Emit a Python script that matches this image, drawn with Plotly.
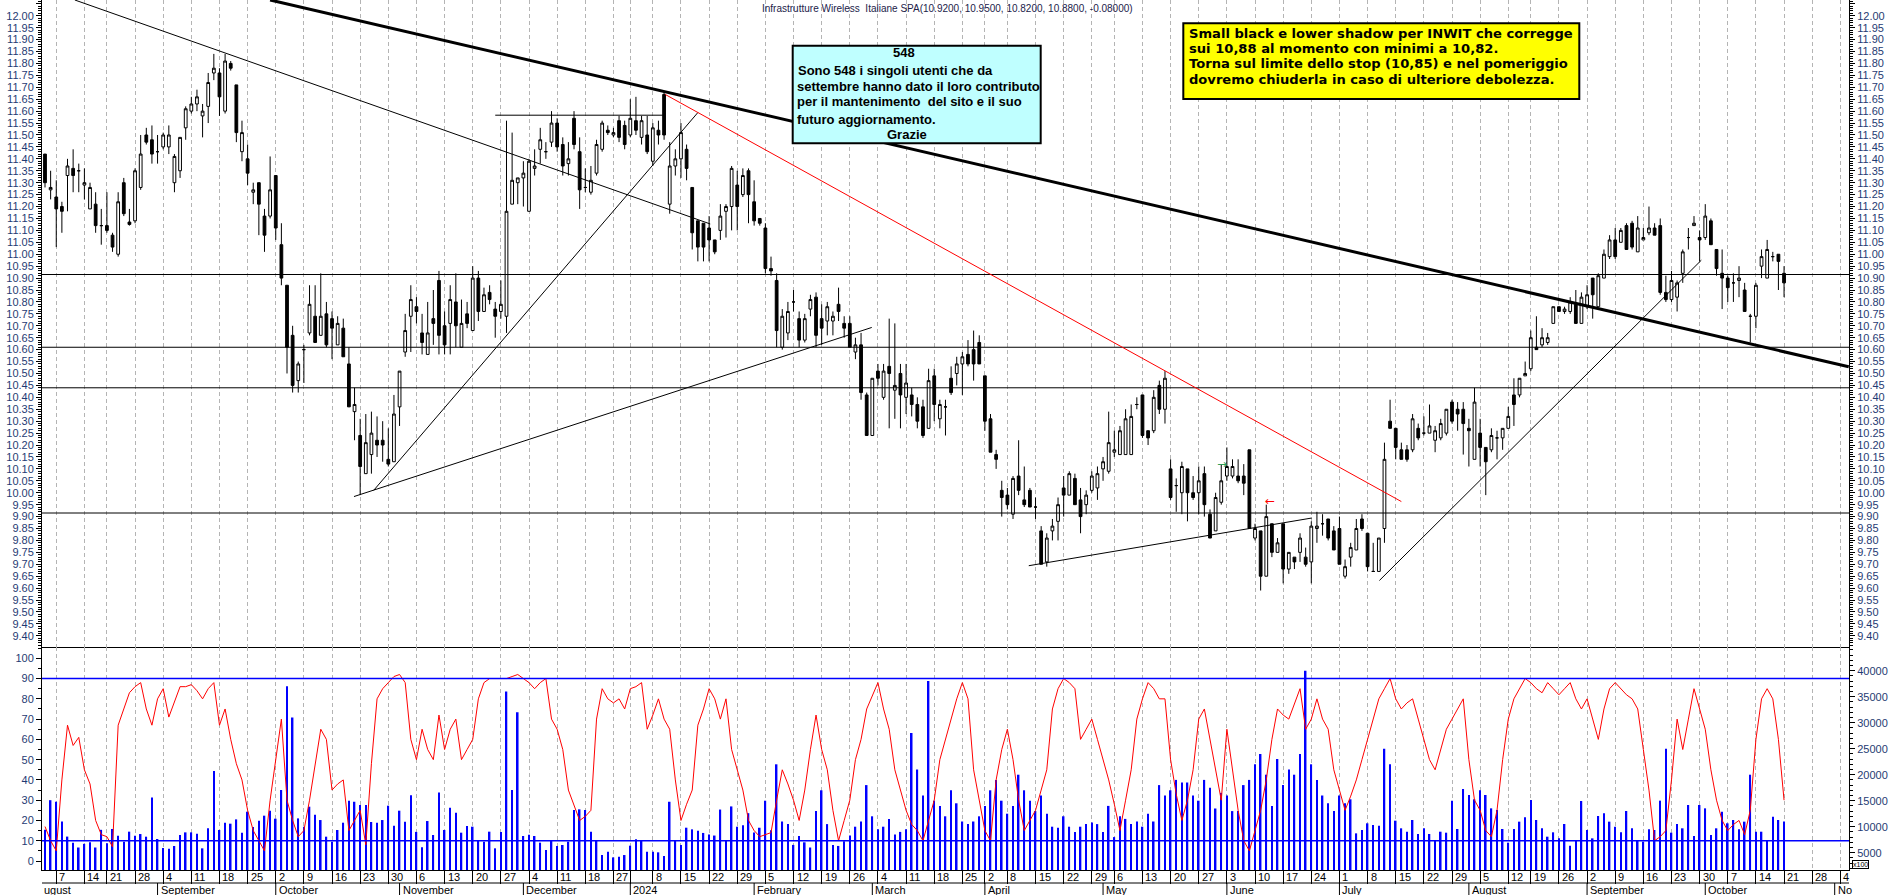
import pandas as pd
import plotly.graph_objects as go

# ---------------- calendar (Borsa Italiana trading days) ----------------
FIRST_DAY = "2023-08-03"
LAST_CAL_DAY = "2024-11-08"
HOLIDAYS = ["2023-08-15", "2023-12-25", "2023-12-26", "2024-01-01",
            "2024-03-29", "2024-04-01", "2024-05-01", "2024-08-15"]

# ---------------- price data (one value per trading day) ----------------
opens = [
    11.42, 11.27, 11.24, 11.20, 11.33, 11.36, 11.35, 11.29, 11.19, 11.21,
    11.12, 11.12, 11.08, 11.00, 11.30, 11.135, 11.14, 11.28, 11.50, 11.48,
    11.43, 11.45, 11.45, 11.30, 11.35, 11.53, 11.60, 11.63, 11.58, 11.62,
    11.76, 11.76, 11.60, 11.80, 11.71, 11.43, 11.40, 11.26, 11.30, 11.16,
    11.16, 11.33, 11.04, 10.87, 10.66, 10.47, 10.60, 10.67, 10.74, 10.66,
    10.75, 10.73, 10.62, 10.69, 10.54, 10.34, 10.24, 10.08, 10.16, 10.22,
    10.22, 10.14, 10.13, 10.36, 10.59, 10.74, 10.78, 10.67, 10.58, 10.73,
    10.89, 10.70, 10.71, 10.80, 10.61, 10.75, 10.68, 10.90, 10.76, 10.84,
    10.77, 10.76, 10.74, 11.21, 11.30, 11.32, 11.18, 11.36, 11.44, 11.43,
    11.47, 11.55, 11.46, 11.38, 11.57, 11.43, 11.28, 11.26, 11.34, 11.44,
    11.52, 11.50, 11.56, 11.54, 11.50, 11.56, 11.49, 11.50, 11.39, 11.52,
    11.67, 11.21, 11.37, 11.40, 11.44, 11.28, 11.14, 11.13, 11.11, 11.06,
    11.10, 11.18, 11.20, 11.29, 11.25, 11.35, 11.22, 11.15, 11.11, 10.94,
    10.89, 10.61, 10.67, 10.80, 10.73, 10.64, 10.77, 10.82, 10.73, 10.72,
    10.72, 10.79, 10.71, 10.71, 10.59, 10.62, 10.41, 10.24, 10.51, 10.40,
    10.53, 10.43, 10.50, 10.40, 10.41, 10.37, 10.36, 10.27, 10.49, 10.31,
    10.36, 10.48, 10.50, 10.54, 10.58, 10.60, 10.63, 10.49, 10.31, 10.16,
    10.01, 9.99, 9.91, 10.07, 9.97, 10.01, 9.94, 9.84, 9.71, 9.84,
    9.88, 10.02, 9.99, 10.06, 9.97, 9.95, 10.01, 10.02, 10.10, 10.09,
    10.17, 10.16, 10.16, 10.16, 10.37, 10.41, 10.26, 10.26, 10.45, 10.35,
    10.10, 10.03, 10.00, 10.10, 10.00, 10.00, 10.08, 9.91, 9.84, 9.96,
    10.07, 10.07, 10.07, 10.07, 10.18, 9.81, 9.84, 9.65, 9.87, 9.75,
    9.87, 9.68, 9.73, 9.75, 9.73, 9.71, 9.85, 9.87, 9.89, 9.84,
    9.85, 9.65, 9.73, 9.76, 9.89, 9.83, 9.67, 9.67, 9.85, 10.30,
    10.27, 10.18, 10.18, 10.18, 10.27, 10.25, 10.25, 10.22, 10.23, 10.25,
    10.38, 10.35, 10.35, 10.27, 10.14, 10.25, 10.19, 10.18, 10.23, 10.23,
    10.27, 10.41, 10.41, 10.49, 10.52, 10.61, 10.62, 10.63, 10.71, 10.78,
    10.76, 10.76, 10.79, 10.71, 10.78, 10.90, 10.78, 10.90, 10.99, 11.06,
    11.05, 11.12, 11.13, 11.01, 11.06, 11.09, 11.11, 11.12, 10.84, 10.81,
    10.82, 10.92, 11.07, 11.12, 11.07, 11.07, 11.14, 11.02, 10.92, 10.90,
    10.88, 10.89, 10.85, 10.74, 10.74, 10.95, 10.90, 10.99, 11.00, 10.92,
]
highs = [
    11.42, 11.35, 11.31, 11.22, 11.40, 11.44, 11.38, 11.36, 11.30, 11.26,
    11.19, 11.26, 11.09, 11.26, 11.32, 11.19, 11.36, 11.50, 11.53, 11.54,
    11.50, 11.51, 11.54, 11.42, 11.49, 11.62, 11.66, 11.69, 11.63, 11.76,
    11.84, 11.78, 11.84, 11.81, 11.71, 11.56, 11.46, 11.30, 11.30, 11.19,
    11.41, 11.33, 11.13, 10.87, 10.70, 10.55, 10.62, 10.87, 10.87, 10.92,
    10.80, 10.76, 10.74, 10.73, 10.61, 10.44, 10.31, 10.33, 10.34, 10.32,
    10.30, 10.27, 10.41, 10.51, 10.75, 10.87, 10.82, 10.75, 10.80, 10.85,
    10.93, 10.76, 10.87, 10.92, 10.81, 10.80, 10.95, 10.93, 10.86, 10.87,
    10.80, 10.89, 11.56, 11.51, 11.32, 11.39, 11.40, 11.44, 11.53, 11.47,
    11.60, 11.57, 11.49, 11.47, 11.60, 11.49, 11.36, 11.37, 11.48, 11.56,
    11.54, 11.53, 11.58, 11.56, 11.65, 11.66, 11.58, 11.58, 11.55, 11.56,
    11.68, 11.47, 11.44, 11.55, 11.46, 11.28, 11.14, 11.13, 11.16, 11.06,
    11.21, 11.21, 11.37, 11.35, 11.36, 11.36, 11.31, 11.15, 11.13, 10.99,
    10.92, 10.77, 10.80, 10.85, 10.76, 10.75, 10.83, 10.84, 10.79, 10.80,
    10.76, 10.86, 10.74, 10.74, 10.65, 10.67, 10.42, 10.48, 10.54, 10.54,
    10.73, 10.71, 10.54, 10.54, 10.44, 10.40, 10.39, 10.52, 10.52, 10.39,
    10.39, 10.53, 10.57, 10.59, 10.64, 10.68, 10.66, 10.49, 10.33, 10.18,
    10.05, 10.02, 10.07, 10.22, 10.11, 10.02, 9.98, 9.86, 9.83, 9.89,
    9.98, 10.07, 10.09, 10.08, 10.02, 10.01, 10.09, 10.11, 10.15, 10.34,
    10.26, 10.28, 10.35, 10.37, 10.40, 10.41, 10.26, 10.43, 10.47, 10.51,
    10.14, 10.06, 10.13, 10.10, 10.07, 10.11, 10.11, 9.93, 10.00, 10.12,
    10.19, 10.14, 10.14, 10.12, 10.18, 9.87, 9.84, 9.95, 9.87, 9.81,
    9.87, 9.75, 9.73, 9.83, 9.77, 9.88, 9.92, 9.91, 9.89, 9.86,
    9.90, 9.72, 9.79, 9.89, 9.91, 9.83, 9.79, 9.81, 10.21, 10.39,
    10.27, 10.21, 10.20, 10.33, 10.29, 10.32, 10.37, 10.28, 10.31, 10.35,
    10.39, 10.38, 10.38, 10.31, 10.44, 10.31, 10.19, 10.27, 10.26, 10.27,
    10.36, 10.48, 10.48, 10.55, 10.68, 10.74, 10.69, 10.67, 10.78, 10.78,
    10.78, 10.82, 10.85, 10.84, 10.87, 10.90, 10.92, 11.02, 11.08, 11.11,
    11.11, 11.13, 11.14, 11.16, 11.11, 11.20, 11.13, 11.15, 10.91, 10.93,
    10.89, 11.02, 11.11, 11.16, 11.10, 11.21, 11.15, 11.02, 11.02, 10.91,
    10.92, 10.95, 10.88, 10.75, 10.88, 11.02, 11.06, 11.01, 11.00, 10.95,
]
lows = [
    11.28, 11.23, 11.03, 11.09, 11.18, 11.26, 11.26, 11.23, 11.19, 11.09,
    11.04, 11.09, 11.01, 10.99, 11.16, 11.12, 11.13, 11.27, 11.46, 11.38,
    11.38, 11.44, 11.42, 11.26, 11.32, 11.48, 11.59, 11.60, 11.49, 11.55,
    11.73, 11.58, 11.59, 11.77, 11.47, 11.39, 11.29, 11.21, 11.08, 11.01,
    11.15, 11.06, 10.87, 10.50, 10.42, 10.42, 10.46, 10.66, 10.63, 10.66,
    10.61, 10.56, 10.62, 10.57, 10.36, 10.22, 9.99, 10.08, 10.08, 10.15,
    10.13, 10.11, 10.13, 10.28, 10.57, 10.59, 10.71, 10.58, 10.58, 10.62,
    10.58, 10.58, 10.58, 10.61, 10.61, 10.69, 10.68, 10.72, 10.76, 10.79,
    10.65, 10.73, 10.67, 11.21, 11.21, 11.20, 11.18, 11.33, 11.38, 11.40,
    11.45, 11.43, 11.33, 11.33, 11.44, 11.19, 11.26, 11.25, 11.33, 11.43,
    11.50, 11.49, 11.47, 11.44, 11.49, 11.50, 11.46, 11.42, 11.37, 11.46,
    11.48, 11.17, 11.33, 11.32, 11.31, 11.02, 10.97, 10.97, 10.97, 11.00,
    11.06, 11.07, 11.10, 11.10, 11.24, 11.13, 11.12, 11.12, 10.92, 10.91,
    10.61, 10.60, 10.64, 10.76, 10.61, 10.63, 10.74, 10.61, 10.62, 10.66,
    10.66, 10.72, 10.65, 10.61, 10.56, 10.39, 10.24, 10.24, 10.45, 10.39,
    10.27, 10.31, 10.27, 10.33, 10.32, 10.27, 10.23, 10.27, 10.30, 10.27,
    10.24, 10.41, 10.45, 10.41, 10.53, 10.47, 10.54, 10.26, 10.17, 10.10,
    9.90, 9.93, 9.89, 9.99, 9.94, 9.94, 9.89, 9.70, 9.69, 9.80,
    9.80, 9.90, 9.99, 9.95, 9.83, 9.91, 10.00, 9.97, 10.05, 10.08,
    10.15, 10.16, 10.16, 10.16, 10.35, 10.23, 10.20, 10.25, 10.33, 10.29,
    9.97, 9.92, 9.91, 9.88, 9.97, 9.91, 9.90, 9.81, 9.84, 9.95,
    10.05, 10.06, 10.04, 9.99, 9.85, 9.80, 9.59, 9.65, 9.73, 9.75,
    9.62, 9.66, 9.68, 9.71, 9.69, 9.62, 9.79, 9.82, 9.80, 9.76,
    9.70, 9.64, 9.69, 9.76, 9.84, 9.67, 9.67, 9.67, 9.79, 10.27,
    10.14, 10.14, 10.13, 10.17, 10.22, 10.24, 10.25, 10.17, 10.22, 10.24,
    10.29, 10.26, 10.16, 10.11, 10.14, 10.11, 9.99, 10.17, 10.14, 10.18,
    10.27, 10.28, 10.40, 10.49, 10.51, 10.60, 10.61, 10.62, 10.71, 10.76,
    10.75, 10.75, 10.71, 10.71, 10.77, 10.73, 10.78, 10.90, 10.98, 10.98,
    11.05, 11.02, 11.02, 11.01, 11.06, 11.08, 11.08, 10.83, 10.80, 10.80,
    10.76, 10.88, 11.02, 11.12, 10.97, 11.06, 11.04, 10.91, 10.77, 10.80,
    10.80, 10.82, 10.76, 10.63, 10.69, 10.90, 10.90, 10.97, 10.85, 10.82,
]
closes = [
    11.30, 11.28, 11.19, 11.18, 11.37, 11.33, 11.35, 11.30, 11.28, 11.12,
    11.12, 11.10, 11.03, 11.22, 11.17, 11.125, 11.35, 11.42, 11.47, 11.42,
    11.43, 11.50, 11.50, 11.41, 11.49, 11.61, 11.63, 11.66, 11.60, 11.72,
    11.78, 11.66, 11.81, 11.78, 11.51, 11.51, 11.34, 11.27, 11.21, 11.08,
    11.27, 11.11, 10.90, 10.61, 10.45, 10.54, 10.60, 10.79, 10.63, 10.74,
    10.62, 10.69, 10.71, 10.57, 10.36, 10.37, 10.11, 10.21, 10.25, 10.20,
    10.20, 10.12, 10.33, 10.51, 10.68, 10.81, 10.76, 10.63, 10.67, 10.71,
    10.66, 10.62, 10.81, 10.70, 10.71, 10.71, 10.90, 10.76, 10.83, 10.81,
    10.74, 10.79, 11.18, 11.31, 11.32, 11.34, 11.39, 11.37, 11.48, 11.43,
    11.55, 11.45, 11.37, 11.40, 11.46, 11.27, 11.28, 11.31, 11.46, 11.55,
    11.51, 11.51, 11.49, 11.46, 11.57, 11.52, 11.56, 11.43, 11.53, 11.50,
    11.50, 11.37, 11.40, 11.51, 11.36, 11.09, 11.03, 11.03, 11.06, 11.01,
    11.16, 11.20, 11.36, 11.20, 11.33, 11.25, 11.14, 11.13, 10.94, 10.93,
    10.68, 10.74, 10.76, 10.80, 10.64, 10.73, 10.81, 10.66, 10.69, 10.78,
    10.74, 10.76, 10.69, 10.61, 10.62, 10.42, 10.24, 10.48, 10.48, 10.51,
    10.50, 10.45, 10.41, 10.46, 10.37, 10.30, 10.24, 10.47, 10.37, 10.37,
    10.36, 10.42, 10.54, 10.57, 10.54, 10.54, 10.54, 10.30, 10.17, 10.14,
    9.98, 9.95, 10.06, 10.01, 9.95, 9.94, 9.94, 9.70, 9.81, 9.86,
    9.95, 9.99, 10.08, 9.95, 9.90, 9.99, 10.07, 10.08, 10.13, 10.21,
    10.18, 10.26, 10.31, 10.32, 10.37, 10.24, 10.23, 10.40, 10.35, 10.48,
    9.98, 10.03, 10.11, 10.00, 9.98, 10.05, 9.95, 9.81, 9.98, 10.05,
    10.11, 10.11, 10.05, 10.04, 9.85, 9.85, 9.65, 9.90, 9.75, 9.79,
    9.68, 9.75, 9.71, 9.81, 9.70, 9.86, 9.86, 9.87, 9.81, 9.76,
    9.70, 9.69, 9.77, 9.85, 9.85, 9.69, 9.67, 9.81, 10.14, 10.27,
    10.19, 10.14, 10.14, 10.31, 10.23, 10.25, 10.28, 10.26, 10.29, 10.35,
    10.30, 10.33, 10.29, 10.26, 10.38, 10.19, 10.13, 10.24, 10.23, 10.27,
    10.32, 10.37, 10.48, 10.50, 10.65, 10.60, 10.65, 10.65, 10.78, 10.76,
    10.77, 10.80, 10.71, 10.82, 10.83, 10.83, 10.91, 11.00, 11.06, 10.99,
    11.10, 11.02, 11.03, 11.11, 11.07, 11.11, 11.08, 10.84, 10.81, 10.89,
    10.88, 11.01, 11.07, 11.13, 11.06, 11.16, 11.04, 10.94, 10.90, 10.86,
    10.88, 10.90, 10.76, 10.74, 10.87, 10.99, 11.02, 10.99, 10.97, 10.88,
]

# ---------------- lower panel: oscillator (0-100) and volume (x100) ----------------
oscillator = [
    17, 10, 5, 40, 67, 57, 61, 45, 38, 20, 13, 12, 7, 67, 75, 83, 86, 88, 75, 67,
    80, 85, 71, 78, 86, 86, 87, 84, 80, 85, 88, 67, 75, 60, 48, 40, 25, 15, 10, 5,
    30, 50, 70, 30, 20, 12, 15, 30, 47, 65, 60, 35, 38, 40, 15, 20, 25, 8, 48, 80,
    85, 88, 91, 92, 88, 60, 50, 65, 55, 50, 72, 55, 65, 70, 50, 55, 60, 80, 88, 90,
    90, 90, 90, 91, 92, 90, 88, 85, 88, 90, 70, 65, 55, 35, 28, 20, 22, 25, 70, 85,
    80, 78, 80, 75, 85, 86, 88, 65, 72, 80, 70, 65, 40, 20, 28, 35, 67, 75, 85, 80,
    70, 80, 55, 45, 35, 20, 15, 12, 13, 14, 30, 45, 38, 30, 20, 35, 55, 72, 55, 45,
    25, 10, 20, 30, 50, 60, 75, 82, 88, 75, 65, 45, 35, 25, 18, 15, 10, 20, 30, 50,
    60, 70, 80, 88, 80, 45, 30, 15, 10, 40, 55, 65, 50, 30, 15, 20, 25, 35, 45, 75,
    85, 90, 88, 85, 60, 65, 70, 60, 50, 40, 28, 15, 30, 45, 70, 80, 88, 85, 80, 80,
    50, 33, 20, 30, 45, 70, 75, 60, 45, 30, 65, 45, 25, 10, 5, 15, 25, 40, 60, 75,
    72, 70, 78, 85, 65, 70, 80, 70, 65, 45, 35, 25, 32, 40, 50, 60, 70, 80, 85, 90,
    80, 75, 78, 80, 70, 60, 50, 45, 55, 65, 70, 75, 80, 50, 30, 25, 15, 12, 25, 50,
    70, 80, 85, 90, 88, 85, 83, 88, 85, 82, 85, 88, 80, 75, 80, 70, 60, 75, 85, 88,
    85, 82, 80, 75, 55, 35, 10, 12, 15, 40, 70, 55, 70, 85, 75, 65, 45, 30, 20, 15,
    18, 20, 13, 25, 60, 80, 85, 80, 60, 30,
]
volume = [
    9400, 15100, 14800, 11000, 8100, 6900, 6000, 6700, 7000, 6000,
    9400, 6800, 9560, 8270, 7120, 9045, 8270, 8590, 8080, 15600,
    7630, 5900, 5770, 6290, 8400, 8910, 8910, 8660, 5840, 9690,
    20700, 9365, 10770, 10580, 11410, 8850, 12880, 9940, 11150, 12120,
    13080, 11540, 17060, 37000, 31000, 11600, 10000, 13850, 12310, 11280,
    8080, 7120, 9365, 10770, 15000, 14800, 14170, 14170, 10900, 10770,
    11280, 14040, 10190, 13080, 10960, 16050, 9000, 6030, 11090, 8400,
    16560, 9365, 13660, 12690, 8850, 10130, 10000, 7440, 7120, 9045,
    5840, 9000, 36000, 17060, 32000, 8210, 8470, 8210, 6930, 5520,
    7250, 6290, 6480, 7120, 13210, 13340, 13210, 9045, 7440, 4550,
    5200, 4100, 4230, 4550, 6350, 7570, 7440, 5200, 5200, 5070,
    4360, 14800, 7440, 6480, 9810, 9490, 9200, 8800, 8500, 8300,
    13300, 7300, 13900, 10000, 10300, 12600, 8900, 9800, 15000, 9300,
    22000, 11000, 10500, 6500, 8200, 7000, 6000, 13000, 17000, 10500,
    6500, 6300, 7200, 8300, 10000, 11000, 18000, 12000, 9500, 10000,
    11500, 8500, 9000, 9500, 28000, 21000, 16000, 38000, 15000, 14000,
    12000, 17000, 14500, 11000, 10500, 11000, 12000, 14000, 17000, 19000,
    15000, 12500, 14000, 20000, 17000, 15000, 13000, 16000, 12500, 10000,
    9800, 12000, 10000, 9000, 10000, 10500, 10800, 10500, 9000, 14000,
    8000, 12000, 11500, 10500, 11000, 10000, 12500, 11000, 18000, 16000,
    17000, 19000, 18500, 18500, 16000, 15000, 19000, 17500, 13500, 16500,
    16000, 13000, 13000, 18000, 19000, 22000, 24000, 20000, 14000, 23000,
    18000, 21000, 20000, 24000, 40000, 22000, 19000, 16000, 14500, 13000,
    16000, 14500, 15270, 8720, 9370, 10650, 10330, 10200, 25000, 22000,
    11160, 9690, 9040, 11290, 8600, 9690, 8600, 7440, 9040, 8850,
    15010, 9560, 17250, 16100, 15270, 17020, 16100, 13530, 13210, 9560,
    6930, 9560, 10970, 11800, 15140, 11290, 9690, 8080, 8920, 7760,
    10520, 6350, 7310, 14940, 9370, 7760, 12060, 12570, 10970, 10010,
    8920, 13020, 9690, 7440, 7120, 9490, 9370, 15010, 25000, 8850,
    10520, 9690, 14170, 8210, 14170, 13530, 8400, 9690, 12890, 10650,
    11290, 9490, 10970, 20000, 9040, 9040, 7250, 11930, 11290, 11000,
]

# support / resistance levels and trend lines (day index, price)
h_levels = [10.915, 10.61, 10.44, 9.915]
trend_lines = [
    # x0, y0, x1, y1, color, width
    (40.0, 12.066, 320.5, 10.528, "black", 3),
    (5.3, 12.066, 118.2, 11.127, "black", 1),
    (58.4, 10.01, 116.0, 11.594, "black", 1),
    (54.9, 9.984, 146.9, 10.693, "black", 1),
    (80.0, 11.583, 109.8, 11.583, "black", 1),
    (110.2, 11.67, 241.0, 9.963, "red", 1),
    (174.8, 9.694, 225.1, 9.894, "black", 1),
    (237.1, 9.632, 294.3, 10.975, "black", 1),
]
osc_levels = [90, 10]

MONTH_NAMES = {"2023-09": "September", "2023-10": "October", "2023-11": "November",
               "2023-12": "December", "2024-01": "2024", "2024-02": "February",
               "2024-03": "March", "2024-04": "April", "2024-05": "May",
               "2024-06": "June", "2024-07": "July", "2024-08": "August",
               "2024-09": "September", "2024-10": "October", "2024-11": "No"}

# ---------------- derived helpers ----------------
cal = [d for d in pd.bdate_range(FIRST_DAY, LAST_CAL_DAY)
       if d.strftime("%Y-%m-%d") not in HOLIDAYS]
n = len(opens)
xs = list(range(n))

week_idx, week_txt = [], []
for i in range(1, len(cal)):
    if cal[i].isocalendar()[1] != cal[i - 1].isocalendar()[1]:
        week_idx.append(i)
        week_txt.append("" if (cal[i].month == 1 and cal[i].day == 2) else str(cal[i].day))
month_idx, month_txt = [], []
for i in range(1, len(cal)):
    if cal[i].month != cal[i - 1].month:
        month_idx.append(i)
        month_txt.append(MONTH_NAMES[cal[i].strftime("%Y-%m")])

XR = [-0.533, 320.54]
PRICE_R = [9.354, 12.066]
OSC_R = [-4.44, 105.67]
VOL_R = [1673, 44596]
SPLIT = 0.25655
NAVY = "#1f3b73"
FONT = "Liberation Sans, Arial, sans-serif"
GRID = "#b4b4b4"

fig = go.Figure()
fig.add_trace(go.Candlestick(
    x=xs, open=opens, high=highs, low=lows, close=closes,
    increasing=dict(line=dict(color="black", width=1), fillcolor="white"),
    decreasing=dict(line=dict(color="black", width=1), fillcolor="black"),
    whiskerwidth=0, xaxis="x", yaxis="y", showlegend=False, hoverinfo="skip"))
fig.add_trace(go.Scatter(x=[XR[0]], y=[PRICE_R[0]], mode="markers",
                         marker=dict(opacity=0), xaxis="x", yaxis="y4",
                         showlegend=False, hoverinfo="skip"))
fig.add_trace(go.Bar(x=xs, y=volume, width=0.28, marker=dict(color="#0000ff", line=dict(width=0)),
                     xaxis="x2", yaxis="y2", showlegend=False, hoverinfo="skip"))
fig.add_trace(go.Scatter(x=xs, y=oscillator, mode="lines", line=dict(color="#ff0000", width=1),
                         xaxis="x2", yaxis="y3", showlegend=False, hoverinfo="skip"))

shapes = []
for lv in h_levels:
    shapes.append(dict(type="line", xref="paper", yref="y", x0=0, x1=1, y0=lv, y1=lv,
                       line=dict(color="black", width=1), layer="above"))
for (x0, y0, x1, y1, c, w) in trend_lines:
    shapes.append(dict(type="line", xref="x", yref="y", x0=x0, y0=y0, x1=x1, y1=y1,
                       line=dict(color=c, width=w), layer="above"))
for lv in osc_levels:
    shapes.append(dict(type="line", xref="paper", yref="y3", x0=0, x1=1, y0=lv, y1=lv,
                       line=dict(color="#0000ff", width=1.5), layer="above"))
# date band: row separator and month separators
shapes.append(dict(type="line", xref="paper", yref="paper", x0=0, x1=1,
                   y0=-13 / 870, y1=-13 / 870, line=dict(color="black", width=1)))
for mi in month_idx:
    shapes.append(dict(type="line", xref="x2", yref="paper", x0=mi, x1=mi,
                       y0=-13 / 870, y1=-25 / 870, line=dict(color="black", width=1)))
# text boxes
shapes.append(dict(type="rect", xref="paper", yref="paper", x0=0.41544, x1=0.55268,
                   y0=0.83529, y1=0.94747, fillcolor="#bfffff",
                   line=dict(color="black", width=2), layer="above"))
shapes.append(dict(type="rect", xref="paper", yref="paper", x0=0.63160, x1=0.85075,
                   y0=0.88621, y1=0.97322, fillcolor="#ffff00",
                   line=dict(color="black", width=2), layer="above"))

ann = []
ann.append(dict(xref="paper", yref="paper", x=(760 - 42) / 1807, y=(870 - 8) / 870, xanchor="left",
                yanchor="middle", showarrow=False,
                text="Infrastrutture Wireless  Italiane SPA(10.9200, 10.9500, 10.8200, 10.8800, -0.08000)",
                font=dict(family=FONT, size=10, color="#22224a")))
cyan_lines = [("548", 904, 52.7, "center"),
              ("Sono 548 i singoli utenti che da", 796, 70.7, "left"),
              ("settembre hanno dato il loro contributo", 795, 86.7, "left"),
              ("per il mantenimento  del sito e il suo", 795, 101.7, "left"),
              ("futuro aggiornamento.", 795, 119.3, "left"),
              ("Grazie", 906.5, 135.0, "center")]
for t, px, py, anc in cyan_lines:
    ann.append(dict(xref="paper", yref="paper", x=(px - 42) / 1807, y=(870 - py) / 870,
                    xanchor=anc, yanchor="middle", showarrow=False, text="<b>" + t + "</b>",
                    font=dict(family=FONT, size=13, color="black")))
yellow_lines = ["Small black e lower shadow per INWIT che corregge",
                "sui 10,88 al momento con minimi a 10,82.",
                "Torna sul limite dello stop (10,85) e nel pomeriggio",
                "dovremo chiuderla in caso di ulteriore debolezza."]
for t, py in zip(yellow_lines, [33.3, 48.3, 63.6, 79.0]):
    ann.append(dict(xref="paper", yref="paper", x=(1187 - 42) / 1807, y=(870 - py) / 870,
                    xanchor="left", yanchor="middle", showarrow=False, text="<b>" + t + "</b>",
                    font=dict(family="DejaVu Sans, sans-serif", size=13.1, color="black")))
# small arrows
ann.append(dict(xref="x", yref="y", x=209.1, y=10.12, text="→", showarrow=False,
                font=dict(family="DejaVu Sans", size=12, color="#2e9e5a")))
ann.append(dict(xref="x", yref="y", x=217.7, y=9.965, text="←", showarrow=False,
                font=dict(family="DejaVu Sans", size=12, color="#ff0000")))
# date labels
for wi, wt in zip(week_idx, week_txt):
    if wt and XR[0] <= wi <= XR[1]:
        ann.append(dict(xref="x2", yref="paper", x=wi, y=-6.8 / 870, xanchor="left",
                        yanchor="middle", xshift=1, showarrow=False, text=wt,
                        font=dict(family=FONT, size=11, color="black")))
ann.append(dict(xref="paper", yref="paper", x=0, y=-19.5 / 870, xanchor="left",
                yanchor="middle", showarrow=False, text="ugust",
                font=dict(family=FONT, size=11, color="black")))
for mi, mt in zip(month_idx, month_txt):
    if mi <= XR[1]:
        ann.append(dict(xref="x2", yref="paper", x=mi, y=-19.5 / 870, xanchor="left",
                        yanchor="middle", xshift=1, showarrow=False, text=mt,
                        font=dict(family=FONT, size=11, color="black")))
ann.append(dict(xref="paper", yref="paper", x=(1852 - 42) / 1807, y=(870 - 864.6) / 870,
                xanchor="left", yanchor="middle", showarrow=False, text="x100",
                font=dict(family=FONT, size=7, color="black"), bordercolor="black",
                borderwidth=1, borderpad=0))

week_in = [w for w in week_idx if XR[0] <= w <= XR[1]]
xcommon = dict(range=XR, tickvals=week_in, showticklabels=False, showgrid=True,
               gridcolor=GRID, griddash="4px,3px", gridwidth=1, zeroline=False,
               showline=True, linecolor="black", linewidth=1, fixedrange=True)
ycommon = dict(showgrid=False, zeroline=False, showline=True, linecolor="black",
               linewidth=1, ticks="outside", tickcolor="black", ticklen=5,
               tickfont=dict(family=FONT, size=11, color=NAVY), fixedrange=True)

fig.update_layout(
    width=1890, height=895, margin=dict(l=42, r=41, t=0, b=25),
    paper_bgcolor="white", plot_bgcolor="white", showlegend=False,
    xaxis=dict(domain=[0, 1], anchor="y", ticks="", rangeslider=dict(visible=False), **xcommon),
    xaxis2=dict(domain=[0, 1], anchor="y2", ticks="outside", ticklen=13, tickcolor="black",
                tickwidth=1, **xcommon),
    yaxis=dict(domain=[SPLIT, 1], range=PRICE_R, side="left", dtick=0.05, tick0=0,
               tickformat=".2f", minor=dict(dtick=0.01, ticklen=3, ticks="outside",
                                            tickcolor="black"), anchor="x", **ycommon),
    yaxis4=dict(range=PRICE_R, overlaying="y", side="right", dtick=0.05, tick0=0,
                tickformat=".2f", minor=dict(dtick=0.01, ticklen=3, ticks="outside",
                                             tickcolor="black"), anchor="x", **ycommon),
    yaxis2=dict(domain=[0, SPLIT], range=VOL_R, side="right", dtick=5000, tick0=0,
                tickformat="d", minor=dict(dtick=1000, ticklen=3, ticks="outside",
                                           tickcolor="black"), anchor="x2", **ycommon),
    yaxis3=dict(range=OSC_R, overlaying="y2", side="left", dtick=10, tick0=0,
                minor=dict(dtick=5, ticklen=3, ticks="outside", tickcolor="black"),
                anchor="x2", **ycommon),
    shapes=shapes, annotations=ann,
)
fig.write_html("out.html")
